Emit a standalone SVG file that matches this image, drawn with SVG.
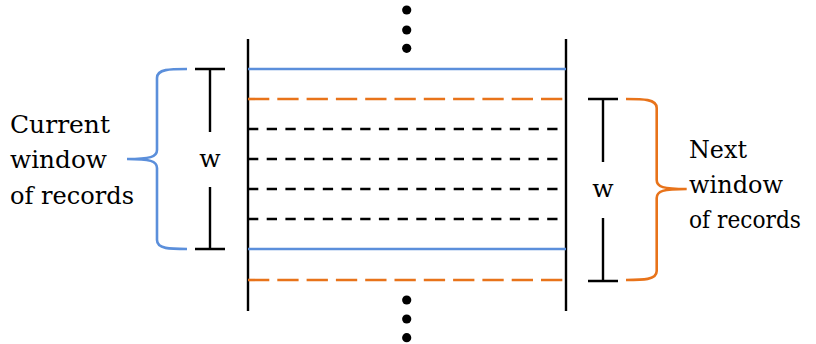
<svg xmlns="http://www.w3.org/2000/svg" width="816" height="344" viewBox="0 0 816 344">
<style>
.txt{font-family:'DejaVu Serif','Liberation Serif',serif;font-size:25px;fill:#000}
.wall{stroke:#000;stroke-width:2.4;fill:none}
.blue{stroke:#5b8fdb;stroke-width:2.6;fill:none}
.odash{stroke:#e8731a;stroke-width:2.6;fill:none;stroke-dasharray:21.3 8}
.kdash{stroke:#000;stroke-width:2.4;fill:none;stroke-dasharray:10.3 8.4}
.beam{stroke:#000;stroke-width:2.4;fill:none}
.bbrace{stroke:#5b8fdb;stroke-width:2.6;fill:none}
.obrace{stroke:#e8731a;stroke-width:2.6;fill:none}
</style>
<g id="stack">
<line class="wall" x1="248" y1="39" x2="248" y2="311"/>
<line class="wall" x1="566" y1="39" x2="566" y2="311"/>
<line class="blue" x1="248" y1="69" x2="566" y2="69"/>
<line class="odash" x1="248" y1="99" x2="563" y2="99"/>
<line class="kdash" x1="248" y1="129" x2="558" y2="129"/>
<line class="kdash" x1="248" y1="159" x2="558" y2="159"/>
<line class="kdash" x1="248" y1="189" x2="558" y2="189"/>
<line class="kdash" x1="248" y1="219" x2="558" y2="219"/>
<line class="blue" x1="248" y1="249" x2="566" y2="249"/>
<line class="odash" x1="248" y1="280" x2="563" y2="280"/>
</g>
<g id="dots-top" fill="#000">
<circle cx="406.7" cy="10" r="4.6"/>
<circle cx="406.7" cy="30" r="4.6"/>
<circle cx="406.7" cy="48.3" r="4.6"/>
</g>
<g id="dots-bottom" fill="#000">
<circle cx="406.7" cy="300" r="4.6"/>
<circle cx="406.7" cy="319" r="4.6"/>
<circle cx="406.7" cy="337.7" r="4.6"/>
</g>
<g id="current-window">
<path class="beam" d="M195,69 H225 M210,69 V132 M210,187 V249 M195,249 H225"/>
<text class="txt" x="210" y="167" text-anchor="middle">w</text>
<path class="bbrace" d="M187,69 C170,69 157,69 157,78 L157,150 C157,157 150,159 127,159 C150,159 157,161 157,168 L157,240 C157,249 170,249 187,249"/>
<text class="txt" x="10" y="133" textLength="100" lengthAdjust="spacingAndGlyphs">Current</text>
<text class="txt" x="10" y="168" textLength="97" lengthAdjust="spacingAndGlyphs">window</text>
<text class="txt" x="10" y="204" textLength="124" lengthAdjust="spacingAndGlyphs">of records</text>
</g>
<g id="next-window">
<path class="beam" d="M588,99 H618 M603,99 V162 M603,218 V281 M588,281 H618"/>
<text class="txt" x="603" y="197" text-anchor="middle">w</text>
<path class="obrace" d="M626,99 C643,99 656.7,99 656.7,108 L656.7,180 C656.7,187 663,189 686.7,189 C663,189 656.7,191 656.7,198 L656.7,271 C656.7,280 643,280 626,280"/>
<text class="txt" x="689" y="158" font-size="24" textLength="58" lengthAdjust="spacingAndGlyphs">Next</text>
<text class="txt" x="689" y="193" font-size="24" textLength="94" lengthAdjust="spacingAndGlyphs">window</text>
<text class="txt" x="689" y="228" font-size="24" textLength="112" lengthAdjust="spacingAndGlyphs">of records</text>
</g>
</svg>
